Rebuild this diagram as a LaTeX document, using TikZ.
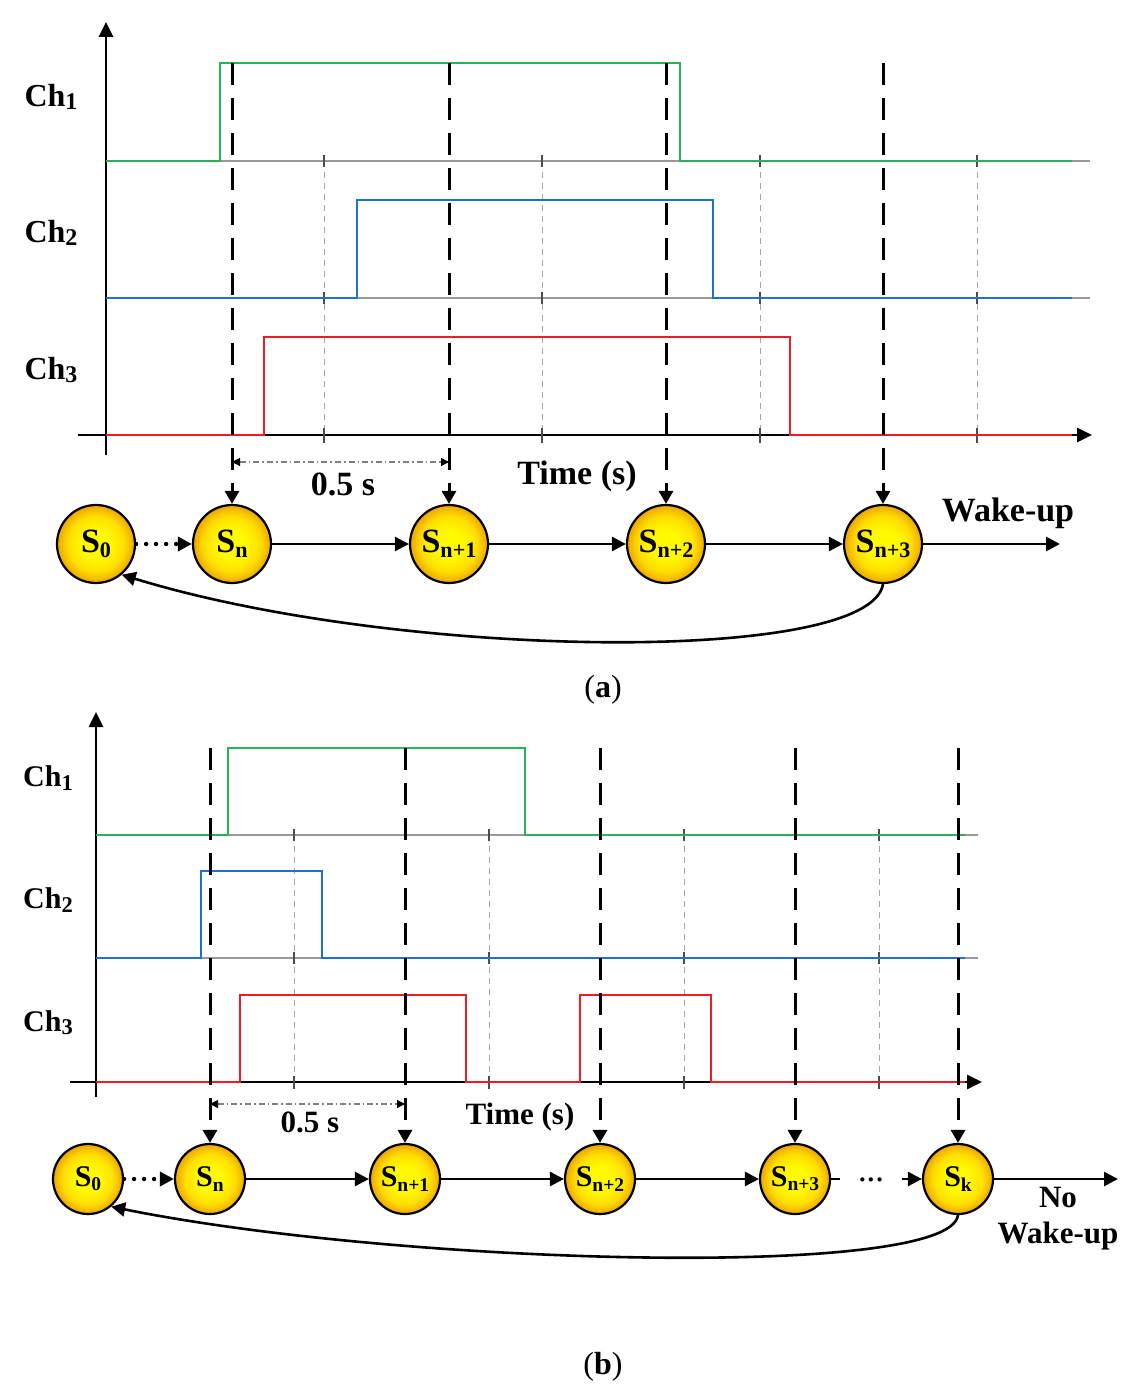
\documentclass[tikz,border=0pt]{standalone}
\usepackage{fontspec}
\setmainfont{Liberation Serif}
\usepackage{graphicx}
\usetikzlibrary{arrows.meta}
\definecolor{sgreen}{RGB}{40,178,90}
\definecolor{sblue}{RGB}{30,115,200}
\definecolor{sred}{RGB}{235,30,35}
\definecolor{nin}{RGB}{255,250,0}
\definecolor{nmid}{RGB}{255,222,0}
\definecolor{nout}{RGB}{236,165,0}
\pgfdeclareradialshading{ballshade}{\pgfpoint{0bp}{0bp}}{color(0bp)=(nin); color(9bp)=(nin); color(18bp)=(nmid); color(25bp)=(nout); color(50bp)=(nout)}
\newcommand\subx[2]{#1\raisebox{-0.3ex}{\scalebox{0.65}{#2}}}
\newcommand\chl[1]{Ch\raisebox{-0.24ex}{\scalebox{0.75}{#1}}}
\begin{document}
\begin{tikzpicture}[x=0.5pt,y=-0.5pt,
  axis/.style={line width=1.3pt,-{Triangle[length=7.5pt,width=7pt]}},
  sig/.style={line width=1.4pt},
  base/.style={gray!80,line width=0.6pt},
  gridl/.style={gray!70,line width=0.5pt,dash pattern=on 3pt off 2.5pt},
  tickl/.style={black!70,line width=0.6pt},
  vdash/.style={line width=1.5pt,dash pattern=on 11pt off 6.5pt,-{Triangle[length=6.5pt,width=7pt]}},
  conn/.style={line width=1.3pt,-{Triangle[length=7pt,width=7pt]}},
  dotconn/.style={line width=2.2pt,dash pattern=on 0pt off 5pt,line cap=round,-{Triangle[length=7pt,width=7pt,line cap=butt]}},
  dimarr/.style={gray,line width=0.55pt,dash pattern=on 3pt off 1.5pt on 0.8pt off 1.5pt,{Triangle[length=4pt,width=4pt,black]}-{Triangle[length=4pt,width=4pt,black]}},
  stnode/.style={circle,draw=black,line width=1.1pt,shading=ballshade,minimum size=39pt,inner sep=0pt,font=\fontsize{17}{17}\selectfont\bfseries},
  stnodeb/.style={stnode,minimum size=35pt,font=\fontsize{15}{15}\selectfont\bfseries},
  chlab/.style={inner sep=0pt,font=\fontsize{16}{16}\selectfont\bfseries},
  chlabb/.style={inner sep=0pt,font=\fontsize{15}{15}\selectfont\bfseries},
  lbl/.style={inner sep=0pt,font=\fontsize{17}{17}\selectfont\bfseries},
  lblb/.style={inner sep=0pt,font=\fontsize{15.5}{15.5}\selectfont\bfseries},
  captxt/.style={inner sep=0pt,font=\fontsize{16}{16}\selectfont}]
\useasboundingbox (0,0) rectangle (1146,1400);
\fill[white] (0,0) rectangle (1146,1400);

% ===================== (a) =====================
\coordinate (ya0) at (106,455); \coordinate (ya1) at (106,22);
\coordinate (xa0) at (78,435); \coordinate (xa1) at (1092,435);
\draw[base] (106,161) -- (1090,161);
\draw[base] (106,298) -- (1090,298);
\draw[axis] (xa0) -- (xa1);
\draw[axis] (ya0) -- (ya1);
\foreach \x in {324,542,760,977} {
  \draw[gridl] (\x,161) -- (\x,435);
  \draw[tickl] (\x,155) -- (\x,167);
  \draw[tickl] (\x,292) -- (\x,304);
  \draw[tickl] (\x,428) -- (\x,443);
}
\draw[sig,sgreen] (106,161) -- (220,161) -- (220,63) -- (680,63) -- (680,161) -- (1072,161);
\draw[sig,sblue] (106,298) -- (357,298) -- (357,200) -- (713,200) -- (713,298) -- (1072,298);
\draw[sig,sred] (106,435) -- (264,435) -- (264,337) -- (790,337) -- (790,435) -- (1072,435);

\node[chlab] (ch1a) at (51,97) {\chl{1}};
\node[chlab] (ch2a) at (51,233) {\chl{2}};
\node[chlab] (ch3a) at (51,370) {\chl{3}};

\node[stnode] (a0) at (96,544) {\subx{S}{0}};
\node[stnode] (an) at (232,544) {\subx{S}{n}};
\node[stnode] (an1) at (449,544) {\subx{S}{n+1}};
\node[stnode] (an2) at (666,544) {\subx{S}{n+2}};
\node[stnode] (an3) at (883,544) {\subx{S}{n+3}};

\coordinate (ta0) at (232,63); \coordinate (ta1) at (449,63);
\coordinate (ta2) at (666,63); \coordinate (ta3) at (883,63);
\draw[vdash] (ta0) -- (an.north);
\draw[vdash] (ta1) -- (an1.north);
\draw[vdash] (ta2) -- (an2.north);
\draw[vdash] (ta3) -- (an3.north);

\coordinate (da0) at (232,462); \coordinate (da1) at (449,462);
\draw[dimarr] (da0) -- (da1);
\node[lbl] (halfa) at (343,484) {0.5 s};
\node[lbl] (timea) at (577,476) {Time (s)};
\node[lbl] (wakea) at (1008,513) {Wake-up};

\draw[dotconn] (a0) -- (an);
\draw[conn] (an) -- (an1);
\draw[conn] (an1) -- (an2);
\draw[conn] (an2) -- (an3);
\coordinate (wa) at (1060,544);
\draw[conn] (an3) -- (wa);
\draw[conn] (an3.south) .. controls (870,665) and (400,660) .. (a0.-50);

\node[captxt] (capa) at (603,690) {(\textbf{a})};

% ===================== (b) =====================
\coordinate (yb0) at (96,1097); \coordinate (yb1) at (96,712);
\coordinate (xb0) at (70,1082); \coordinate (xb1) at (982,1082);
\draw[base] (96,835) -- (978,835);
\draw[base] (96,958) -- (978,958);
\draw[axis] (xb0) -- (xb1);
\draw[axis] (yb0) -- (yb1);
\foreach \x in {294,489,684,879} {
  \draw[gridl] (\x,835) -- (\x,1082);
  \draw[tickl] (\x,829) -- (\x,841);
  \draw[tickl] (\x,952) -- (\x,964);
  \draw[tickl] (\x,1076) -- (\x,1089);
}
\draw[sig,sgreen] (96,835) -- (228,835) -- (228,748) -- (525,748) -- (525,835) -- (965,835);
\draw[sig,sblue] (96,958) -- (201,958) -- (201,871) -- (322,871) -- (322,958) -- (965,958);
\draw[sig,sred] (96,1082) -- (240,1082) -- (240,995) -- (466,995) -- (466,1082) -- (580,1082) -- (580,995) -- (711,995) -- (711,1082) -- (965,1082);

\node[chlabb] (ch1b) at (48,778) {\chl{1}};
\node[chlabb] (ch2b) at (48,900) {\chl{2}};
\node[chlabb] (ch3b) at (48,1023) {\chl{3}};

\node[stnodeb] (b0) at (88,1179) {\subx{S}{0}};
\node[stnodeb] (bn) at (210,1179) {\subx{S}{n}};
\node[stnodeb] (bn1) at (405,1179) {\subx{S}{n+1}};
\node[stnodeb] (bn2) at (600,1179) {\subx{S}{n+2}};
\node[stnodeb] (bn3) at (795,1179) {\subx{S}{n+3}};
\node[stnodeb] (bk) at (958,1179) {\subx{S}{k}};

\coordinate (tb0) at (210,748); \coordinate (tb1) at (405,748);
\coordinate (tb2) at (600,748); \coordinate (tb3) at (795,748);
\coordinate (tb4) at (958,748);
\draw[vdash] (tb0) -- (bn.north);
\draw[vdash] (tb1) -- (bn1.north);
\draw[vdash] (tb2) -- (bn2.north);
\draw[vdash] (tb3) -- (bn3.north);
\draw[vdash] (tb4) -- (bk.north);

\coordinate (db0) at (210,1104); \coordinate (db1) at (405,1104);
\draw[dimarr] (db0) -- (db1);
\node[lblb] (halfb) at (310,1122) {0.5 s};
\node[lblb] (timeb) at (520,1117) {Time (s)};
\node[lblb] (nob) at (1058,1197) {No};
\node[lblb] (wakeb) at (1058,1236) {Wake-up};

\node[inner xsep=9pt,inner ysep=0pt,font=\fontsize{13}{13}\selectfont\bfseries] (dots) at (871,1183) {···};

\draw[dotconn] (b0) -- (bn);
\draw[conn] (bn) -- (bn1);
\draw[conn] (bn1) -- (bn2);
\draw[conn] (bn2) -- (bn3);
\draw[line width=1.3pt] (bn3.east) -- (dots.west |- bn3.east);
\draw[conn] (dots.east |- bk.west) -- (bk.west);
\coordinate (wb) at (1118,1179);
\draw[conn] (bk) -- (wb);
\draw[conn] (bk.south) .. controls (950,1280) and (400,1265) .. (b0.-50);

\node[captxt] (capb) at (603,1367) {(\textbf{b})};
\end{tikzpicture}
\end{document}
